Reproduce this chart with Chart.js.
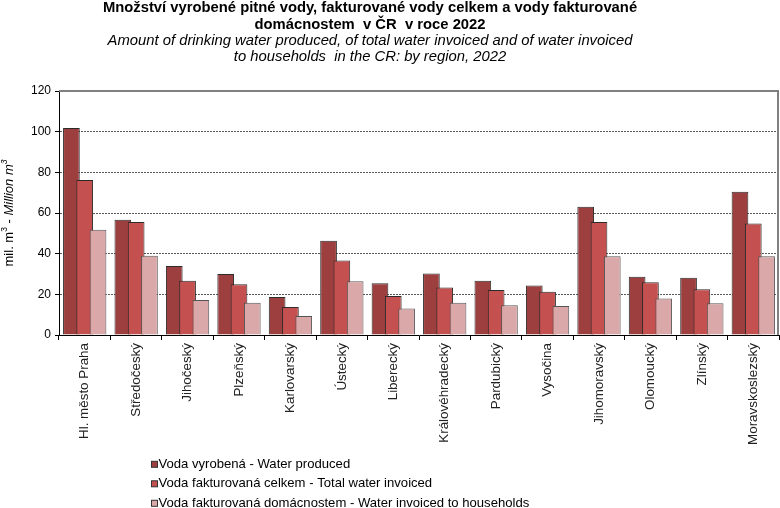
<!DOCTYPE html>
<html>
<head>
<meta charset="utf-8">
<script src="https://cdn.jsdelivr.net/npm/chart.js@4.4.1/dist/chart.umd.min.js"></script>
<style>
    body { margin: 0; background: #ffffff; }
    #wrap { position: relative; width: 780px; height: 508px; }
</style>
</head>
<body>
<div id="wrap"><canvas id="waterChart" width="780" height="508"></canvas></div>
<script>
// Regions of the Czech Republic
const regions = [
    'Hl. město Praha', 'Středočeský', 'Jihočeský', 'Plzeňský', 'Karlovarský',
    'Ústecký', 'Liberecký', 'Královéhradecký', 'Pardubický', 'Vysočina',
    'Jihomoravský', 'Olomoucký', 'Zlínský', 'Moravskoslezský'
];

// mil. m3
const waterProduced = [101.8, 56.7, 33.9, 30.0, 18.7, 46.4, 25.4, 30.3, 26.7, 24.3, 63.1, 28.7, 28.2, 70.5];
const totalInvoiced = [76.2, 55.6, 26.7, 24.9, 13.8, 36.6, 19.2, 23.3, 22.1, 21.3, 55.6, 25.9, 22.5, 54.8];
const householdsInvoiced = [51.8, 39.0, 17.2, 15.9, 9.3, 26.4, 13.0, 15.9, 14.6, 14.3, 38.7, 18.0, 15.6, 38.7];

const seriesLabels = [
    'Voda vyrobená - Water produced',
    'Voda fakturovaná celkem - Total water invoiced',
    'Voda fakturovaná domácnostem - Water invoiced to households'
];

const titleLines = [
    'Množství vyrobené pitné vody, fakturované vody celkem a vody fakturované',
    'domácnostem  v ČR  v roce 2022'
];
const subtitleLines = [
    'Amount of drinking water produced, of total water invoiced and of water invoiced',
    'to households  in the CR: by region, 2022'
];

const FONT = "'Liberation Sans', Arial, sans-serif";

// Titles, y axis caption, plot frame and the stacked legend
const decorPlugin = {
    id: 'decor',
    // draw datasets first to last so later bars overlap earlier ones
    beforeDatasetsDraw(chart) {
        chart.getSortedVisibleDatasetMetas().forEach(meta => meta.controller.draw());
        return false;
    },
    afterDraw(chart) {
        const ctx = chart.ctx;
        const area = chart.chartArea;
        ctx.save();

        // frame on top and right
        ctx.strokeStyle = '#808080';
        ctx.lineWidth = 2;
        ctx.beginPath();
        ctx.moveTo(area.left, area.top);
        ctx.lineTo(area.right - 1, area.top);
        ctx.lineTo(area.right - 1, area.bottom);
        ctx.stroke();

        // titles
        ctx.fillStyle = '#000';
        ctx.textAlign = 'center';
        ctx.textBaseline = 'middle';
        ctx.font = 'bold 14.8px ' + FONT;
        titleLines.forEach((t, i) => ctx.fillText(t, 370, 8 + i * 16.5));
        ctx.font = 'italic 14.8px ' + FONT;
        subtitleLines.forEach((t, i) => ctx.fillText(t, 370, 40.5 + i * 16.5));

        // y axis caption with italic english part
        ctx.save();
        ctx.translate(9, 213);
        ctx.rotate(-Math.PI / 2);
        const partA = 'mil. m';
        const partB = ' - ';
        const partC = 'Million m';
        ctx.font = '13px ' + FONT;
        const wA = ctx.measureText(partA).width;
        const wB = ctx.measureText(partB).width;
        ctx.font = '8.5px ' + FONT;
        const wS = ctx.measureText('3').width;
        ctx.font = 'italic 13px ' + FONT;
        const wC = ctx.measureText(partC).width;
        let x = -(wA + wS + wB + wC + wS) / 2;
        ctx.textAlign = 'left';
        ctx.font = '13px ' + FONT;
        ctx.fillText(partA, x, 0); x += wA;
        ctx.font = '8.5px ' + FONT;
        ctx.fillText('3', x, -4.5); x += wS;
        ctx.font = '13px ' + FONT;
        ctx.fillText(partB, x, 0); x += wB;
        ctx.font = 'italic 13px ' + FONT;
        ctx.fillText(partC, x, 0); x += wC;
        ctx.font = 'italic 8.5px ' + FONT;
        ctx.fillText('3', x, -4.5);
        ctx.restore();

        // legend stacked at the bottom left
        ctx.textAlign = 'left';
        ctx.textBaseline = 'middle';
        ctx.font = '13.1px ' + FONT;
        chart.data.datasets.forEach((ds, i) => {
            const y = 464.3 + i * 19.5;
            ctx.fillStyle = ds.backgroundColor;
            ctx.fillRect(151.5, y - 3, 6, 6);
            ctx.strokeStyle = '#333';
            ctx.lineWidth = 1;
            ctx.strokeRect(151.5, y - 3, 6, 6);
            ctx.fillStyle = '#000';
            ctx.fillText(ds.label, 158.5, y);
        });
        ctx.restore();
    }
};

const ctx = document.getElementById('waterChart');

window.waterChart = new Chart(ctx, {
    type: 'bar',
    data: {
        labels: regions,
        datasets: [
            {
                label: seriesLabels[0],
                data: waterProduced,
                backgroundColor: '#9e3f3f',
                borderColor: '#2b2b2b',
                borderWidth: 1
            },
            {
                label: seriesLabels[1],
                data: totalInvoiced,
                backgroundColor: '#c45050',
                borderColor: '#2b2b2b',
                borderWidth: 1
            },
            {
                label: seriesLabels[2],
                data: householdsInvoiced,
                backgroundColor: '#daa8a9',
                borderColor: '#555555',
                borderWidth: 1
            }
        ]
    },
    options: {
        responsive: false,
        animation: false,
        categoryPercentage: 0.776,
        barPercentage: 1.255,
        layout: {
            padding: { top: 91, right: 1, bottom: 0, left: 0 }
        },
        plugins: {
            legend: { display: false },
            tooltip: { enabled: false }
        },
        scales: {
            x: {
                afterFit: scale => { scale.height = 173; },
                border: { color: '#000', width: 1 },
                grid: {
                    display: true,
                    drawOnChartArea: false,
                    offset: true,
                    tickLength: 5,
                    color: '#000'
                },
                ticks: {
                    minRotation: 90,
                    maxRotation: 90,
                    autoSkip: false,
                    padding: 3,
                    color: '#222',
                    font: { size: 13.4, family: FONT }
                }
            },
            y: {
                min: 0,
                max: 120,
                afterFit: scale => { scale.width = 59; },
                border: { color: '#000', width: 1, dash: [2, 1] },
                grid: {
                    color: ctx => (ctx.tick && ctx.tick.value === 0) ? 'rgba(0,0,0,0)' : '#5a5a5a',
                    tickLength: 4,
                    tickColor: '#000',
                    tickBorderDash: []
                },
                ticks: {
                    stepSize: 20,
                    padding: 4,
                    color: '#000',
                    font: { size: 12, family: FONT }
                }
            }
        }
    },
    plugins: [decorPlugin]
});
</script>
</body>
</html>
